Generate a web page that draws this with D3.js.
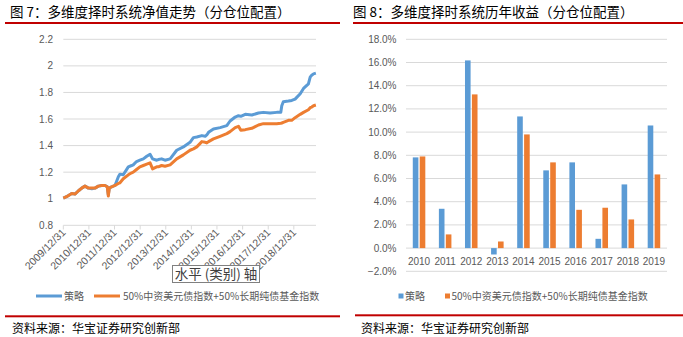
<!DOCTYPE html>
<html><head><meta charset="utf-8">
<script src="https://cdn.jsdelivr.net/npm/d3@7/dist/d3.min.js"></script>
<style>body{margin:0;background:#fff}svg{display:block}</style>
</head><body>
<script>
// ---------- Data ----------
const navDates = ["2009-12-31","2010-02-15","2010-04-30","2010-06-15","2010-08-05","2010-09-20","2010-11-05","2010-12-24","2011-02-10","2011-03-28","2011-05-15","2011-07-01","2011-08-17","2011-09-19","2011-10-04","2011-10-18","2011-11-20","2012-01-07","2012-02-24","2012-03-18","2012-05-04","2012-07-15","2012-09-01","2012-09-23","2012-11-09","2012-12-27","2013-02-14","2013-04-04","2013-05-21","2013-06-26","2013-08-24","2013-09-16","2013-11-02","2013-12-20","2014-03-03","2014-06-05","2014-09-08","2014-12-12","2015-01-29","2015-03-18","2015-05-30","2015-07-16","2015-08-08","2015-09-02","2015-11-11","2016-02-14","2016-05-19","2016-07-05","2016-09-16","2016-11-02","2016-12-05","2017-02-06","2017-05-11","2017-08-14","2017-10-23","2018-01-26","2018-05-01","2018-06-28","2018-07-12","2018-08-03","2018-10-15","2018-12-01","2019-01-18","2019-04-01","2019-05-18","2019-07-27","2019-08-21","2019-09-12","2019-10-08","2019-11-10"];
const navStrategy = [1.005,1.015,1.04,1.035,1.06,1.08,1.095,1.08,1.075,1.08,1.095,1.10,1.10,1.09,1.03,1.08,1.09,1.10,1.165,1.185,1.18,1.24,1.25,1.255,1.28,1.29,1.30,1.32,1.335,1.30,1.29,1.295,1.30,1.29,1.30,1.365,1.39,1.425,1.46,1.465,1.475,1.47,1.48,1.50,1.525,1.535,1.55,1.585,1.615,1.625,1.62,1.635,1.63,1.645,1.65,1.645,1.65,1.65,1.70,1.73,1.735,1.74,1.75,1.79,1.83,1.865,1.915,1.93,1.94,1.945];
const navBenchmark = [1.005,1.015,1.04,1.035,1.06,1.08,1.095,1.08,1.08,1.08,1.095,1.10,1.10,1.09,1.02,1.08,1.09,1.10,1.115,1.12,1.15,1.18,1.195,1.20,1.22,1.24,1.25,1.26,1.27,1.225,1.24,1.24,1.25,1.245,1.255,1.30,1.33,1.365,1.375,1.39,1.43,1.425,1.42,1.43,1.45,1.47,1.49,1.505,1.535,1.545,1.515,1.52,1.53,1.555,1.565,1.565,1.565,1.568,1.57,1.575,1.59,1.59,1.61,1.635,1.65,1.67,1.685,1.69,1.70,1.705];
const navTickLabels = ["2009/12/31","2010/12/31","2011/12/31","2012/12/31","2013/12/31","2014/12/31","2015/12/31","2016/12/31","2017/12/31","2018/12/31"];
const navYTicks = [0.8,1,1.2,1.4,1.6,1.8,2,2.2];

const years = ["2010","2011","2012","2013","2014","2015","2016","2017","2018","2019"];
const retStrategy = [7.82,3.39,16.18,-0.55,11.35,6.70,7.39,0.80,5.49,10.57];
const retBenchmark = [7.90,1.18,13.25,0.57,9.80,7.39,3.30,3.48,2.47,6.35];
const retYTicks = [-2,0,2,4,6,8,10,12,14,16,18];

const seriesNames = ["策略","50%中资美元债指数+50%长期纯债基金指数"];
const colors = ["#5B9BD5","#ED7D31"];
const title1 = "图 7：多维度择时系统净值走势（分仓位配置）";
const title2 = "图 8：多维度择时系统历年收益（分仓位配置）";
const sourceText = "资料来源：华宝证券研究创新部";

// ---------- Drawing ----------
const W = 683, H = 337;
const svg = d3.select("body").append("svg").attr("width", W).attr("height", H);
const cjk = "'Noto Sans CJK SC', sans-serif";
const num = "'Liberation Sans', Arial, sans-serif";
const axisColor = "#595959", gridColor = "#D9D9D9", red = "#C00000";

// titles & red rules
svg.append("text").attr("x", 10).attr("y", 17).attr("font-family", cjk).attr("font-size", 13.5).attr("font-weight", 400).attr("fill", "#000").text(title1);
svg.append("text").attr("x", 353).attr("y", 17).attr("font-family", cjk).attr("font-size", 13.5).attr("font-weight", 400).attr("fill", "#000").text(title2);
svg.append("rect").attr("x", 5).attr("y", 22).attr("width", 335).attr("height", 2).attr("fill", red);
svg.append("rect").attr("x", 353).attr("y", 22).attr("width", 330).attr("height", 2).attr("fill", red);
svg.append("rect").attr("x", 5).attr("y", 315.3).attr("width", 335).attr("height", 2).attr("fill", red);
svg.append("rect").attr("x", 355).attr("y", 314.3).attr("width", 328).attr("height", 2).attr("fill", red);
svg.append("text").attr("x", 12).attr("y", 333).attr("font-family", cjk).attr("font-size", 12).attr("fill", "#000").text(sourceText);
svg.append("text").attr("x", 361).attr("y", 333).attr("font-family", cjk).attr("font-size", 12).attr("fill", "#000").text(sourceText);

// ---------- Left: line chart ----------
const parse = d3.timeParse("%Y-%m-%d");
const dates = navDates.map(parse);
const xL = d3.scaleTime().domain([parse("2009-12-31"), parse("2019-11-12")]).range([63.3, 316]);
const yL = d3.scaleLinear().domain([0.8, 2.2]).range([225.3, 39.3]);

const gL = svg.append("g");
gL.selectAll("line.grid").data(navYTicks).enter().append("line")
  .attr("x1", 63.3).attr("x2", 316).attr("y1", d => yL(d)).attr("y2", d => yL(d))
  .attr("stroke", gridColor).attr("stroke-width", 1);
gL.selectAll("text.yl").data(navYTicks).enter().append("text")
  .attr("x", 53).attr("y", d => yL(d) + 3.5).attr("text-anchor", "end")
  .attr("font-family", num).attr("font-size", 10).attr("fill", axisColor).text(d => d3.format("")(d));

const tickDates = navTickLabels.map(s => d3.timeParse("%Y/%m/%d")(s));
gL.selectAll("line.tk").data(tickDates).enter().append("line")
  .attr("x1", d => xL(d)).attr("x2", d => xL(d)).attr("y1", 225.3).attr("y2", 229.5)
  .attr("stroke", gridColor).attr("stroke-width", 1);
gL.selectAll("text.xl").data(navTickLabels).enter().append("text")
  .attr("transform", (d, i) => `translate(${xL(tickDates[i]) + 3},${233}) rotate(-45)`)
  .attr("text-anchor", "end").attr("font-family", num).attr("font-size", 10.5).attr("fill", axisColor).text(d => d);

const lineGen = vals => d3.line().x((d, i) => xL(dates[i])).y(d => yL(d))(vals);
gL.append("path").attr("d", lineGen(navStrategy)).attr("fill", "none").attr("stroke", colors[0]).attr("stroke-width", 3).attr("stroke-linejoin", "round");
gL.append("path").attr("d", lineGen(navBenchmark)).attr("fill", "none").attr("stroke", colors[1]).attr("stroke-width", 3).attr("stroke-linejoin", "round");

// Excel overlay tooltip
gL.append("rect").attr("x", 172.5).attr("y", 265.5).attr("width", 87).attr("height", 17).attr("fill", "#fff").attr("stroke", "#808080").attr("stroke-width", 1);
gL.append("text").attr("x", 216).attr("y", 278.5).attr("text-anchor", "middle").attr("font-family", cjk).attr("font-size", 13.5).attr("fill", "#404040").text("水平 (类别) 轴");

// legend left
const legL = svg.append("g");
legL.append("line").attr("x1", 36).attr("x2", 62).attr("y1", 296).attr("y2", 296).attr("stroke", colors[0]).attr("stroke-width", 3);
legL.append("text").attr("x", 64).attr("y", 299.5).attr("font-family", cjk).attr("font-size", 10).attr("fill", axisColor).text(seriesNames[0]);
legL.append("line").attr("x1", 94).attr("x2", 120).attr("y1", 296).attr("y2", 296).attr("stroke", colors[1]).attr("stroke-width", 3);
legL.append("text").attr("x", 123).attr("y", 299.5).attr("font-family", cjk).attr("font-size", 10).attr("fill", axisColor).text(seriesNames[1]);

// ---------- Right: bar chart ----------
const xR = d3.scaleBand().domain(years).range([406, 667]).paddingInner(0.52).paddingOuter(0.26);
const xR1 = d3.scaleBand().domain([0, 1]).range([0, xR.bandwidth()]).paddingInner(0.19);
const yR = d3.scaleLinear().domain([-2, 18]).range([271.3, 39.3]);

const gR = svg.append("g");
gR.selectAll("line.grid").data(retYTicks).enter().append("line")
  .attr("x1", 406).attr("x2", 667).attr("y1", d => yR(d)).attr("y2", d => yR(d))
  .attr("stroke", gridColor).attr("stroke-width", 1);
gR.selectAll("text.yl").data(retYTicks).enter().append("text")
  .attr("x", 396.5).attr("y", d => yR(d) + 3.5).attr("text-anchor", "end")
  .attr("font-family", num).attr("font-size", 10).attr("fill", axisColor).text(d => d3.format(".1f")(d) + "%");

[retStrategy, retBenchmark].forEach((vals, s) => {
  gR.selectAll(null).data(vals).enter().append("rect")
    .attr("x", (d, i) => xR(years[i]) + xR1(s))
    .attr("width", xR1.bandwidth())
    .attr("y", d => yR(Math.max(0, d)))
    .attr("height", d => Math.abs(yR(d) - yR(0)))
    .attr("fill", colors[s]);
});
gR.selectAll("text.xl").data(years).enter().append("text")
  .attr("x", d => xR(d) + xR.bandwidth() / 2).attr("y", 265)
  .attr("text-anchor", "middle").attr("font-family", num).attr("font-size", 10).attr("fill", axisColor).text(d => d);

// legend right
const legR = svg.append("g");
legR.append("rect").attr("x", 398.5).attr("y", 293.5).attr("width", 5).attr("height", 5).attr("fill", colors[0]);
legR.append("text").attr("x", 405).attr("y", 299.5).attr("font-family", cjk).attr("font-size", 10).attr("fill", axisColor).text(seriesNames[0]);
legR.append("rect").attr("x", 445).attr("y", 293.5).attr("width", 5).attr("height", 5).attr("fill", colors[1]);
legR.append("text").attr("x", 451.5).attr("y", 299.5).attr("font-family", cjk).attr("font-size", 10).attr("fill", axisColor).text(seriesNames[1]);
</script>
</body></html>
